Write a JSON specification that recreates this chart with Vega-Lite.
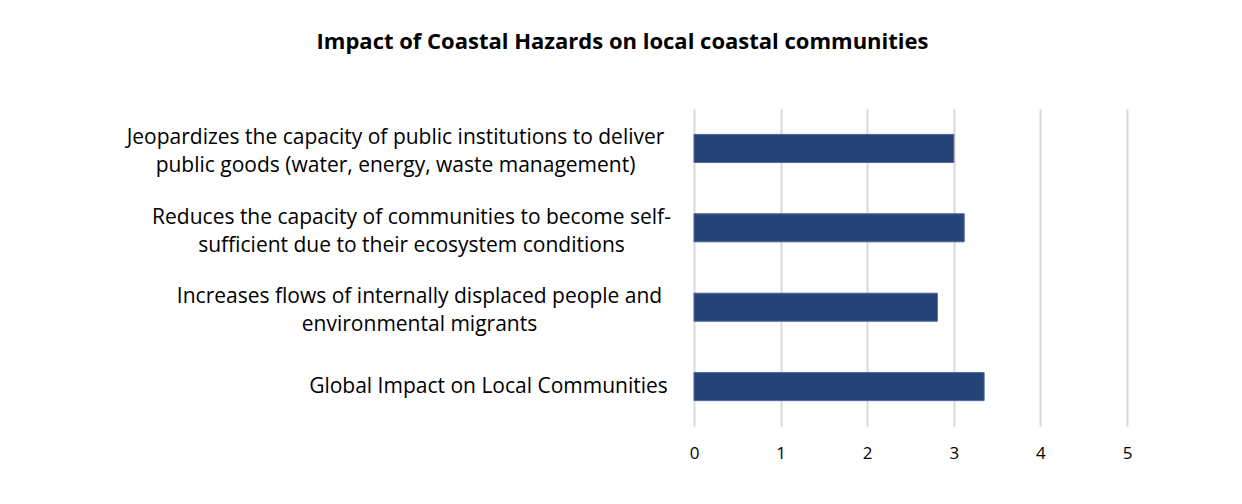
{
  "$schema": "https://vega.github.io/schema/vega-lite/v6.json",
  "autosize": {"type": "none"},
  "width": 433,
  "height": 317,
  "padding": {"left": 694, "top": 109, "right": 115, "bottom": 78},
  "background": "white",
  "title": {
    "text": "Impact of Coastal Hazards on local coastal communities",
    "font": "Open Sans",
    "fontSize": 22,
    "fontWeight": "bold",
    "color": "#000000",
    "anchor": "middle",
    "frame": "group",
    "dx": -288,
    "baseline": "alphabetic",
    "offset": 38
  },
  "data": {
    "values": [
      {"item": "Jeopardizes the capacity of public institutions to deliver|public goods (water, energy, waste management)", "score": 3.0},
      {"item": "Reduces the capacity of communities to become self-|sufficient due to their ecosystem conditions", "score": 3.12},
      {"item": "Increases flows of internally displaced people and|environmental migrants", "score": 2.81},
      {"item": "Global Impact on Local Communities", "score": 3.35}
    ]
  },
  "mark": {"type": "bar", "color": "#264478", "stroke": "#4a6699", "strokeWidth": 1},
  "encoding": {
    "y": {
      "field": "item",
      "type": "nominal",
      "sort": null,
      "scale": {"paddingInner": 0.647, "paddingOuter": 0.32},
      "axis": {
        "title": null,
        "domain": false,
        "ticks": false,
        "labelExpr": "split(datum.label, '|')",
        "labelFont": "Open Sans",
        "labelFontSize": 21,
        "labelColor": "#000000",
        "labelLineHeight": 28,
        "labelAlign": "center",
        "labelBaseline": "middle",
        "labelLimit": 700,
        "labelOffset": {"expr": "datum.value == 'Global Impact on Local Communities' ? 0 : -10"},
        "labelPadding": {"expr": "datum.value == 'Jeopardizes the capacity of public institutions to deliver|public goods (water, energy, waste management)' ? 299 : datum.value == 'Reduces the capacity of communities to become self-|sufficient due to their ecosystem conditions' ? 283 : datum.value == 'Increases flows of internally displaced people and|environmental migrants' ? 275 : 206"}
      }
    },
    "x": {
      "field": "score",
      "type": "quantitative",
      "scale": {"domain": [0, 5], "nice": false},
      "axis": {
        "title": null,
        "domain": false,
        "ticks": false,
        "values": [0, 1, 2, 3, 4, 5],
        "labelFlush": false,
        "labelFont": "Open Sans",
        "labelFontSize": 17,
        "labelColor": "#000000",
        "labelPadding": 19,
        "grid": true,
        "gridColor": "#d9d9d9",
        "gridWidth": 2
      }
    }
  },
  "config": {"view": {"stroke": null}}
}
